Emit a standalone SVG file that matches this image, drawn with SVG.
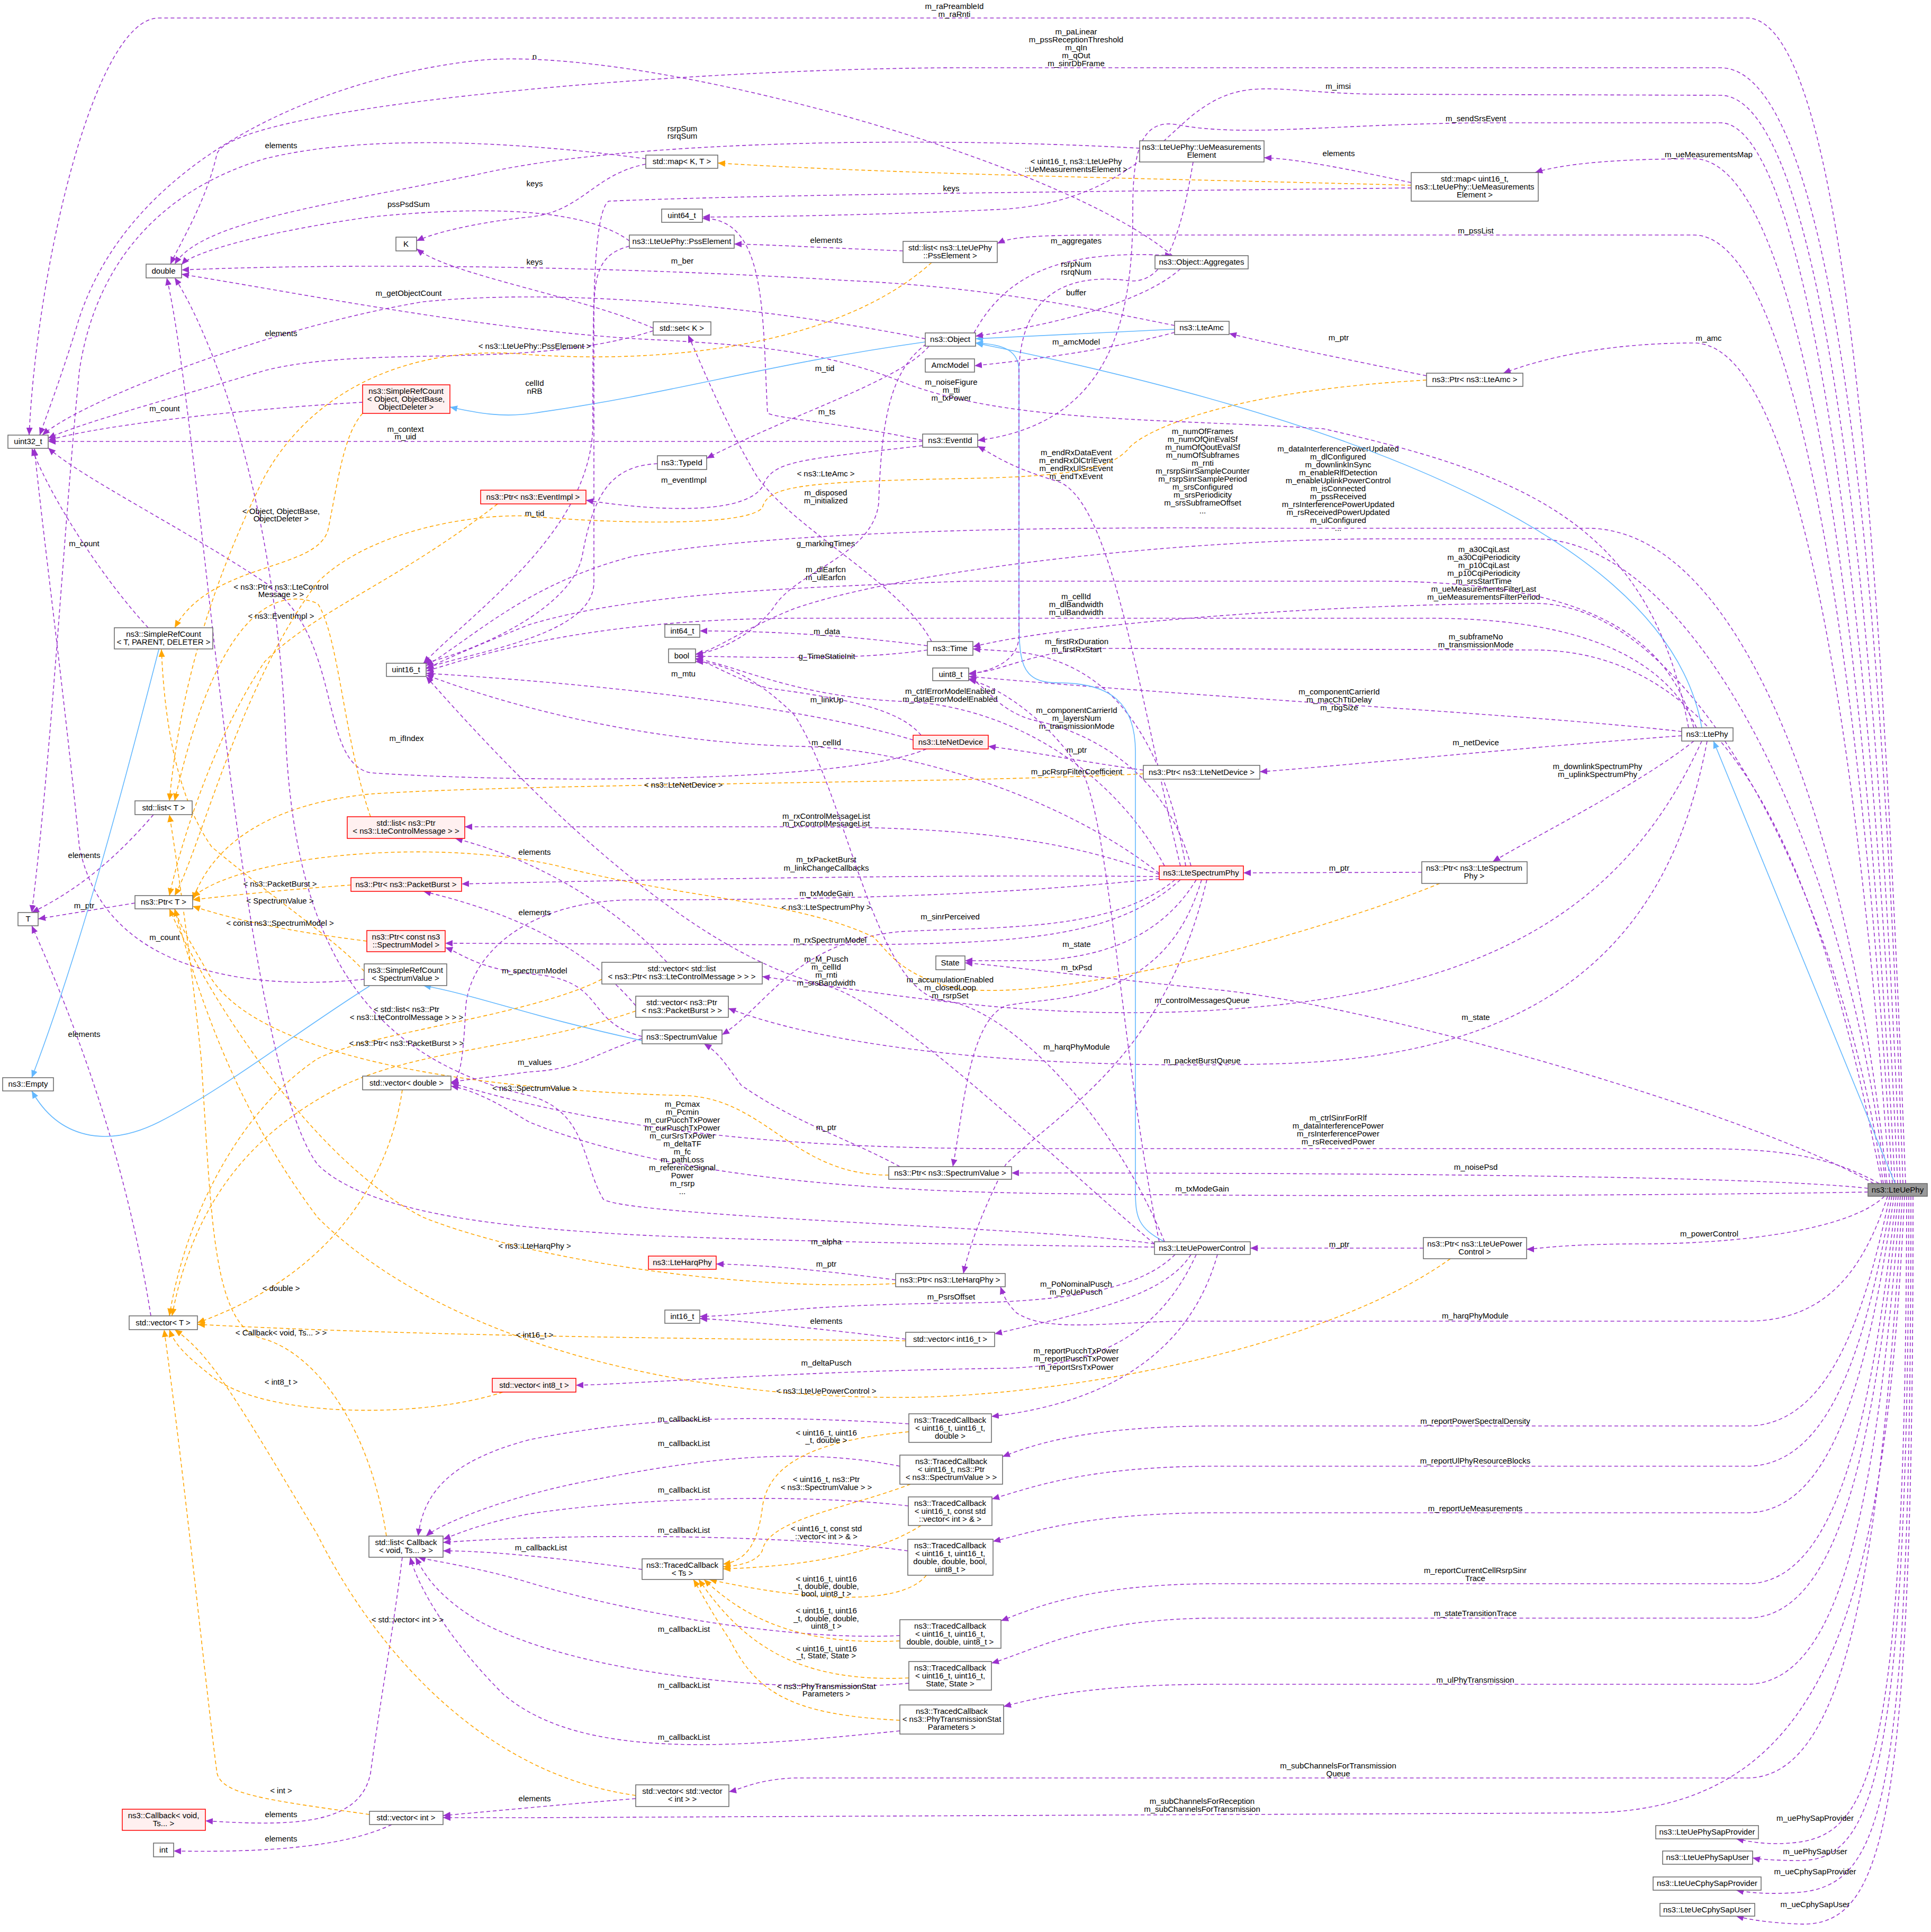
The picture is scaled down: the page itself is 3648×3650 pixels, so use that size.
<svg xmlns="http://www.w3.org/2000/svg" width="3648" height="3650" viewBox="0 0 3648 3650">
<style>
text{font-family:"Liberation Sans",Arial,sans-serif;font-size:15px;fill:#000;text-anchor:middle}
.n rect{fill:#fff;stroke:#666;stroke-width:1.5}
.r rect{fill:#fff0f0;stroke:#f00;stroke-width:1.5}
.m rect{fill:#999;stroke:#666;stroke-width:1.5}
.p{fill:none;stroke:#9a32cd;stroke-width:1.6;stroke-dasharray:7,5;marker-end:url(#ap)}
.o{fill:none;stroke:#ffa500;stroke-width:1.6;stroke-dasharray:7,5;marker-end:url(#ao)}
.b{fill:none;stroke:#63b8ff;stroke-width:1.6;marker-end:url(#ab)}
</style>
<defs>
<marker id="ap" markerUnits="userSpaceOnUse" markerWidth="14" markerHeight="12" refX="14" refY="6" orient="auto"><path d="M0,0L14,6L0,12z" fill="#9a32cd"/></marker>
<marker id="ao" markerUnits="userSpaceOnUse" markerWidth="14" markerHeight="12" refX="14" refY="6" orient="auto"><path d="M0,0L14,6L0,12z" fill="#ffa500"/></marker>
<marker id="ab" markerUnits="userSpaceOnUse" markerWidth="14" markerHeight="12" refX="14" refY="6" orient="auto"><path d="M0,0L14,6L0,12z" fill="#63b8ff"/></marker>
</defs>
<rect width="3648" height="3650" fill="#fff"/>
<g id="connectors">
<path class="p" d="M3600,2236 C3560,1200 3500,34 3300,34 L300,34 C180,34 70,500 55,822"/>
<text x="1803" y="17">m_raPreambleId</text><text x="1803" y="32">m_raRnti</text>
<path class="p" d="M3595,2236 C3560,1200 3480,128 3250,128 L1824,128 C1300,128 450,200 410,290 C390,380 340,460 322,499"/>
<text x="2033" y="65">m_paLinear</text><text x="2033" y="80">m_pssReceptionThreshold</text><text x="2033" y="95">m_qIn</text><text x="2033" y="110">m_qOut</text><text x="2033" y="125">m_sinrDbFrame</text>
<path class="p" d="M3590,2236 C3550,1200 3450,180 3250,180 L2600,178 C2400,175 2350,140 2250,220 C2180,280 2100,380 1900,395 C1700,405 1450,410 1327,410"/>
<text x="2528" y="168">m_imsi</text>
<path class="p" d="M3585,2236 C3540,1200 3420,232 3250,232 L2800,232 C2500,235 2350,260 2220,235 C2150,225 2140,300 2140,400 C2140,600 2100,800 1847,832"/>
<text x="2788" y="229">m_sendSrsEvent</text>
<path class="p" d="M3580,2236 C3530,1300 3420,300 3200,300 C3050,300 2950,310 2900,326"/>
<text x="3228" y="297">m_ueMeasurementsMap</text>
<path class="p" d="M3575,2236 C3520,1300 3400,444 3200,444 L2100,444 C1950,444 1910,448 1884,460"/>
<text x="2788" y="441">m_pssList</text>
<path class="p" d="M3570,2236 C3510,1400 3400,648 3200,648 C3000,648 2880,690 2840,705"/>
<text x="3228" y="644">m_amc</text>
<path class="p" d="M3565,2236 C3500,1600 3300,1000 3000,998 L2400,998 C2000,995 1500,1000 1200,1050 C1000,1100 900,1200 805,1258"/>
<text x="2272" y="820">m_numOfFrames</text><text x="2272" y="835">m_numOfQinEvalSf</text><text x="2272" y="850">m_numOfQoutEvalSf</text><text x="2272" y="865">m_numOfSubframes</text><text x="2272" y="880">m_rnti</text><text x="2272" y="895">m_rsrpSinrSampleCounter</text><text x="2272" y="910">m_rsrpSinrSamplePeriod</text><text x="2272" y="925">m_srsConfigured</text><text x="2272" y="940">m_srsPeriodicity</text><text x="2272" y="955">m_srsSubframeOffset</text><text x="2272" y="970">...</text>
<path class="p" d="M3562,2236 C3490,1600 3200,1018 2900,1018 L2600,1018 C2200,1020 1700,1080 1500,1150 C1400,1190 1350,1230 1314,1236"/>
<text x="2528" y="853">m_dataInterferencePowerUpdated</text><text x="2528" y="868">m_dlConfigured</text><text x="2528" y="883">m_downlinkInSync</text><text x="2528" y="898">m_enableRlfDetection</text><text x="2528" y="913">m_enableUplinkPowerControl</text><text x="2528" y="928">m_isConnected</text><text x="2528" y="943">m_pssReceived</text><text x="2528" y="958">m_rsInterferencePowerUpdated</text><text x="2528" y="973">m_rsReceivedPowerUpdated</text><text x="2528" y="988">m_ulConfigured</text><text x="2528" y="1003">...</text>
<path class="p" d="M3558,2236 C3480,1700 3200,1140 2900,1140 C2500,1140 2000,1180 1838,1222"/>
<text x="2803" y="1043">m_a30CqiLast</text><text x="2803" y="1058">m_a30CqiPeriodicity</text><text x="2803" y="1073">m_p10CqiLast</text><text x="2803" y="1088">m_p10CqiPeriodicity</text><text x="2803" y="1103">m_srsStartTime</text><text x="2803" y="1118">m_ueMeasurementsFilterLast</text><text x="2803" y="1133">m_ueMeasurementsFilterPeriod</text>
<path class="p" d="M3555,2236 C3450,1700 3300,1230 2900,1228 L2100,1225 C1950,1225 1900,1270 1830,1272"/>
<text x="2788" y="1208">m_subframeNo</text><text x="2788" y="1223">m_transmissionMode</text>
<path class="p" d="M3550,2236 C3450,2180 3350,2170 3200,2170 L1900,2170 C1400,2170 1100,2120 852,2046"/>
<text x="2528" y="2117">m_ctrlSinrForRlf</text><text x="2528" y="2132">m_dataInterferencePower</text><text x="2528" y="2147">m_rsInterferencePower</text><text x="2528" y="2162">m_rsReceivedPower</text>
<path class="p" d="M3529,2245 C3300,2220 2500,2216 1911,2216"/>
<text x="2788" y="2210">m_noisePsd</text>
<path class="p" d="M3529,2252 C3200,2258 2500,2262 2000,2255 C1500,2250 1200,2200 1000,2120 C950,2090 900,2060 852,2052"/>
<text x="2271" y="2251">m_txModeGain</text>
<path class="p" d="M3540,2236 C3300,2100 2600,1900 2300,1870 C2100,1850 1900,1825 1823,1819"/>
<text x="2788" y="1927">m_state</text>
<path class="p" d="M3560,2260 C3500,2320 3300,2350 3100,2350 C2950,2350 2900,2360 2884,2360"/>
<text x="3229" y="2336">m_powerControl</text>
<path class="p" d="M3566,2260 C3520,2400 3450,2496 3300,2496 L2250,2496 C2100,2496 1980,2520 1920,2480 C1900,2460 1895,2445 1890,2431"/>
<text x="2787" y="2491">m_harqPhyModule</text>
<path class="p" d="M3570,2260 C3520,2500 3450,2694 3300,2694 L2300,2694 C2050,2694 1950,2730 1894,2752"/>
<text x="2787" y="2690">m_reportPowerSpectralDensity</text>
<path class="p" d="M3574,2260 C3525,2550 3455,2770 3300,2770 L2300,2770 C2050,2770 1950,2810 1874,2832"/>
<text x="2787" y="2765">m_reportUlPhyResourceBlocks</text>
<path class="p" d="M3578,2260 C3530,2600 3460,2858 3300,2858 L2300,2858 C2050,2858 1950,2895 1876,2912"/>
<text x="2787" y="2855">m_reportUeMeasurements</text>
<path class="p" d="M3582,2260 C3535,2700 3465,2992 3300,2992 L2300,2992 C2050,2992 1950,3040 1891,3062"/>
<text x="2787" y="2972">m_reportCurrentCellRsrpSinr</text><text x="2787" y="2987">Trace</text>
<path class="p" d="M3586,2260 C3540,2750 3470,3057 3300,3057 L2300,3057 C2050,3057 1950,3120 1873,3142"/>
<text x="2787" y="3053">m_stateTransitionTrace</text>
<path class="p" d="M3590,2260 C3545,2850 3475,3182 3300,3182 L2300,3182 C2050,3182 1950,3210 1896,3224"/>
<text x="2787" y="3179">m_ulPhyTransmission</text>
<path class="p" d="M3594,2260 C3550,3000 3480,3359 3300,3359 L1500,3359 C1430,3362 1400,3380 1377,3385"/>
<text x="2528" y="3341">m_subChannelsForTransmission</text><text x="2528" y="3356">Queue</text>
<path class="p" d="M3598,2260 C3560,3050 3450,3420 3000,3425 L1000,3434 L837,3434"/>
<text x="2271" y="3408">m_subChannelsForReception</text><text x="2271" y="3423">m_subChannelsForTransmission</text>
<path class="p" d="M3602,2260 C3600,3300 3540,3460 3400,3480 C3340,3488 3300,3478 3280,3474"/>
<text x="3429" y="3440">m_uePhySapProvider</text>
<path class="p" d="M3606,2260 C3605,3350 3540,3515 3400,3515 C3350,3515 3320,3512 3311,3510"/>
<text x="3429" y="3503">m_uePhySapUser</text>
<path class="p" d="M3610,2260 C3610,3400 3560,3560 3400,3575 C3340,3580 3300,3575 3280,3571"/>
<text x="3429" y="3541">m_ueCphySapProvider</text>
<path class="p" d="M3614,2260 C3615,3450 3560,3640 3400,3635 C3330,3632 3300,3625 3280,3620"/>
<text x="3429" y="3603">m_ueCphySapUser</text>
<path class="b" d="M3580,2236 L3237,1400"/>
<path class="b" d="M3215,1375 C3150,1000 2500,780 1843,648"/>
<path class="p" d="M3190,1375 C3120,1000 2900,900 2500,810 C2200,790 1900,800 1700,720 C1550,660 1400,650 1200,640 C900,620 600,560 343,518"/>
<text x="1797" y="727">m_noiseFigure</text><text x="1797" y="742">m_tti</text><text x="1797" y="757">m_txPower</text>
<path class="p" d="M3200,1375 C3150,1200 3000,1098 2600,1098 L1824,1098 C1500,1110 1200,1120 1000,1180 C900,1220 830,1250 805,1264"/>
<text x="1560" y="1081">m_dlEarfcn</text><text x="1560" y="1096">m_ulEarfcn</text>
<path class="p" d="M3205,1375 C3150,1250 3000,1168 2700,1168 L1500,1168 C1100,1170 900,1240 805,1268"/>
<text x="2033" y="1132">m_cellId</text><text x="2033" y="1147">m_dlBandwidth</text><text x="2033" y="1162">m_ulBandwidth</text>
<path class="p" d="M3177,1382 C2900,1350 2300,1320 1830,1278"/>
<text x="2530" y="1312">m_componentCarrierId</text><text x="2530" y="1327">m_macChTtiDelay</text><text x="2530" y="1342">m_rbgSize</text>
<path class="p" d="M3177,1390 C2900,1410 2500,1450 2380,1458"/>
<text x="2788" y="1408">m_netDevice</text>
<path class="p" d="M3200,1400 C3100,1480 2900,1580 2820,1628"/>
<text x="3018" y="1453">m_downlinkSpectrumPhy</text><text x="3018" y="1468">m_uplinkSpectrumPhy</text>
<path class="p" d="M3215,1400 C3100,1650 2900,1850 2400,1900 C2000,1940 1700,1880 1440,1845"/>
<text x="2271" y="1895">m_controlMessagesQueue</text>
<path class="p" d="M3225,1400 C3150,1800 2900,2000 2400,2010 C2000,2020 1600,1990 1376,1905"/>
<text x="2271" y="2009">m_packetBurstQueue</text>
<path class="p" d="M2230,1636 C2150,1300 2100,950 2000,910 C1900,880 1880,860 1847,843"/>
<text x="2033" y="860">m_endRxDataEvent</text><text x="2033" y="875">m_endRxDlCtrlEvent</text><text x="2033" y="890">m_endRxUlSrsEvent</text><text x="2033" y="905">m_endTxEvent</text>
<path class="p" d="M2240,1636 C2200,1400 2100,1240 1900,1230 L1838,1226"/>
<text x="2034" y="1217">m_firstRxDuration</text><text x="2034" y="1232">m_firstRxStart</text>
<path class="p" d="M2200,1636 C2100,1450 1900,1330 1700,1325 C1500,1315 1400,1260 1314,1244"/>
<text x="1795" y="1311">m_ctrlErrorModelEnabled</text><text x="1795" y="1326">m_dataErrorModelEnabled</text>
<path class="p" d="M2250,1636 C2200,1450 2050,1380 1950,1360 C1880,1340 1860,1290 1830,1282"/>
<text x="2034" y="1347">m_componentCarrierId</text><text x="2034" y="1362">m_layersNum</text><text x="2034" y="1377">m_transmissionMode</text>
<path class="p" d="M2190,1650 C2000,1500 1700,1410 1500,1410 C1200,1400 950,1330 805,1275"/>
<text x="1561" y="1408">m_cellId</text>
<path class="p" d="M2190,1652 C2000,1580 1800,1562 1500,1562 L878,1562"/>
<text x="1561" y="1547">m_rxControlMessageList</text><text x="1561" y="1561">m_txControlMessageList</text>
<path class="p" d="M2190,1656 C1800,1652 1300,1660 872,1670"/>
<text x="1561" y="1629">m_txPacketBurst</text><text x="1561" y="1645">m_linkChangeCallbacks</text>
<path class="p" d="M2190,1660 C1900,1690 1600,1700 1200,1700 C1000,1700 890,1800 880,1900 C875,2000 870,2040 852,2046"/>
<text x="1561" y="1693">m_txModeGain</text>
<path class="p" d="M2220,1662 C2100,1760 1900,1750 1700,1760 C1500,1780 1450,1900 1364,1955"/>
<text x="1795" y="1737">m_sinrPerceived</text>
<path class="p" d="M2230,1662 C2100,1780 1900,1785 1500,1785 L841,1782"/>
<text x="1568" y="1781">m_rxSpectrumModel</text>
<path class="p" d="M2260,1662 C2200,1760 2100,1810 1950,1815 L1823,1815"/>
<text x="2034" y="1789">m_state</text>
<path class="p" d="M2270,1662 C2200,1900 2000,1880 1900,1900 C1830,1930 1820,2100 1800,2204"/>
<text x="2034" y="1833">m_txPsd</text>
<path class="p" d="M2280,1662 C2200,2000 2000,2100 1900,2200 C1850,2300 1830,2360 1820,2406"/>
<text x="2034" y="1983">m_harqPhyModule</text>
<path class="p" d="M2686,1648 L2349,1649"/>
<text x="2530" y="1645">m_ptr</text>
<path class="o" d="M2720,1669 C2500,1760 2000,1900 1800,1866 C1700,1840 1680,1800 1650,1770 C1500,1700 1300,1700 1050,1635 C800,1580 450,1620 364,1695"/>
<text x="1561" y="1719">&lt; ns3::LteSpectrumPhy &gt;</text>
<path class="p" d="M1740,1389 C1700,1340 1600,1320 1450,1300 C1380,1280 1340,1250 1314,1246"/>
<text x="1562" y="1327">m_linkUp</text>
<path class="p" d="M1725,1398 C1500,1330 1100,1290 805,1272"/>
<text x="1291" y="1278">m_mtu</text>
<path class="p" d="M1750,1415 C1600,1480 1000,1480 700,1460 C600,1440 650,1200 500,1100 C350,1000 150,900 91,846"/>
<text x="768" y="1400">m_ifIndex</text>
<path class="p" d="M2160,1455 C2050,1440 1950,1420 1867,1410"/>
<text x="2034" y="1422">m_ptr</text>
<path class="o" d="M2160,1462 C1800,1480 1000,1480 700,1500 C500,1520 400,1600 364,1700"/>
<text x="1291" y="1488">&lt; ns3::LteNetDevice &gt;</text>
<path class="b" d="M2200,2346 C2150,2320 2145,2300 2145,2250 L2145,1420 C2145,1330 2100,1290 2000,1290 C1925,1290 1925,1250 1925,1150 L1925,700 C1925,665 1900,650 1843,648"/>
<path class="p" d="M2181,2356 C1700,2350 1300,2340 1150,2330 C1000,2320 700,2300 600,2200 C450,2000 380,800 315,525"/>
<text x="1561" y="2351">m_alpha</text>
<path class="p" d="M2181,2350 C2000,2320 1200,2300 1140,2266 C1100,2200 1110,2100 1000,2070 C700,2000 560,1800 540,1400 C520,900 380,600 330,525"/>
<text x="1289" y="2091">m_Pcmax</text><text x="1289" y="2106">m_Pcmin</text><text x="1289" y="2121">m_curPucchTxPower</text><text x="1289" y="2136">m_curPuschTxPower</text><text x="1289" y="2151">m_curSrsTxPower</text><text x="1289" y="2166">m_deltaTF</text><text x="1289" y="2181">m_fc</text><text x="1289" y="2196">m_pathLoss</text><text x="1289" y="2211">m_referenceSignal</text><text x="1289" y="2226">Power</text><text x="1289" y="2241">m_rsrp</text><text x="1289" y="2256">...</text>
<path class="p" d="M2190,2346 C2120,2000 2100,1600 2050,1470 C2000,1380 1900,1300 1830,1284"/>
<text x="2034" y="1463">m_pcRsrpFilterCoefficient</text>
<path class="p" d="M2181,2350 C2000,2200 1700,1900 1560,1862 C1300,1800 1000,1500 805,1278"/>
<text x="1561" y="1817">m_M_Pusch</text><text x="1561" y="1832">m_cellId</text><text x="1561" y="1847">m_rnti</text><text x="1561" y="1862">m_srsBandwidth</text>
<path class="p" d="M2200,2346 C2100,2100 1900,1900 1780,1890 C1650,1870 1600,1500 1500,1350 C1420,1270 1350,1250 1314,1250"/>
<text x="1795" y="1856">m_accumulationEnabled</text><text x="1795" y="1871">m_closedLoop</text><text x="1795" y="1886">m_rsrpSet</text>
<path class="p" d="M2250,2370 C2200,2450 2050,2480 1879,2520"/>
<text x="2033" y="2431">m_PoNominalPusch</text><text x="2033" y="2446">m_PoUePusch</text>
<path class="p" d="M2220,2370 C2150,2440 2000,2460 1800,2462 C1500,2465 1400,2487 1322,2487"/>
<text x="1797" y="2455">m_PsrsOffset</text>
<path class="p" d="M2260,2370 C2200,2500 2100,2580 1900,2585 C1500,2590 1200,2615 1088,2617"/>
<text x="1561" y="2580">m_deltaPusch</text>
<path class="p" d="M2300,2370 C2250,2550 2100,2650 1873,2676"/>
<text x="2033" y="2557">m_reportPucchTxPower</text><text x="2033" y="2572">m_reportPuschTxPower</text><text x="2033" y="2588">m_reportSrsTxPower</text>
<path class="p" d="M2689,2358 L2362,2358"/>
<text x="2530" y="2356">m_ptr</text>
<path class="o" d="M2740,2378 C2500,2550 2000,2640 1700,2640 C1200,2640 800,2500 600,2300 C450,2100 380,1900 330,1717"/>
<text x="1561" y="2633">&lt; ns3::LteUePowerControl &gt;</text>
<path class="p" d="M1692,2418 C1550,2400 1450,2390 1353,2388"/>
<text x="1561" y="2393">m_ptr</text>
<path class="o" d="M1692,2425 C1400,2440 1000,2380 800,2300 C600,2200 400,1900 320,1717"/>
<text x="1010" y="2359">&lt; ns3::LteHarqPhy &gt;</text>
<path class="p" d="M1700,2204 C1600,2150 1500,2120 1400,2050 C1370,2010 1360,1990 1330,1972"/>
<text x="1561" y="2135">m_ptr</text>
<path class="o" d="M1679,2220 C1500,2220 1450,2080 1300,2070 C900,2060 500,2000 400,1850 C360,1780 340,1750 330,1717"/>
<text x="1010" y="2061">&lt; ns3::SpectrumValue &gt;</text>
<path class="p" d="M1213,1958 C1100,1930 1150,1850 1000,1840 C900,1830 870,1800 841,1790"/>
<text x="1010" y="1839">m_spectrumModel</text>
<path class="p" d="M1213,1962 C1120,1990 1100,2020 1000,2025 L852,2044"/>
<text x="1010" y="2012">m_values</text>
<path class="b" d="M1213,1966 C1000,1920 900,1880 800,1862"/>
<path class="p" d="M1260,1818 C1150,1700 1000,1620 860,1584"/>
<text x="1010" y="1615">elements</text>
<path class="p" d="M1201,1900 C1100,1780 950,1720 800,1684"/>
<text x="1010" y="1729">elements</text>
<path class="o" d="M1137,1850 C1000,1920 700,1950 600,2000 C450,2100 350,2300 320,2486"/>
<text x="768" y="1912">&lt; std::list&lt; ns3::Ptr</text><text x="768" y="1927">&lt; ns3::LteControlMessage &gt; &gt; &gt;</text>
<path class="o" d="M1201,1910 C1000,1980 800,1980 650,2050 C450,2150 360,2300 325,2486"/>
<text x="768" y="1976">&lt; ns3::Ptr&lt; ns3::PacketBurst &gt; &gt;</text>
<path class="o" d="M760,2059 C740,2200 650,2400 373,2499"/>
<text x="531" y="2439">&lt; double &gt;</text>
<path class="o" d="M663,1672 C550,1680 450,1690 364,1700"/>
<text x="529" y="1675">&lt; ns3::PacketBurst &gt;</text>
<path class="o" d="M693,1778 C550,1760 450,1740 364,1712"/>
<text x="529" y="1749">&lt; const ns3::SpectrumModel &gt;</text>
<path class="o" d="M688,1835 C640,1780 520,1700 400,1600 C330,1500 310,1350 305,1227"/>
<text x="529" y="1707">&lt; SpectrumValue &gt;</text>
<path class="p" d="M688,1850 C500,1870 200,1850 150,1600 C120,1300 80,1000 65,847"/>
<text x="311" y="1776">m_count</text>
<path class="o" d="M700,1543 C650,1400 640,1200 600,1140 C500,1100 400,1200 330,1513"/>
<text x="531" y="1114">&lt; ns3::Ptr&lt; ns3::LteControl</text><text x="531" y="1128">Message &gt; &gt;</text>
<path class="o" d="M940,952 C750,1100 600,1150 500,1250 C400,1400 340,1600 320,1692"/>
<text x="531" y="1169">&lt; ns3::EventImpl &gt;</text>
<path class="o" d="M730,2902 C700,2700 600,2560 500,2530 C400,2510 400,2300 380,2000 C360,1800 330,1600 320,1539"/>
<text x="531" y="2523">&lt; Callback&lt; void, Ts... &gt; &gt;</text>
<path class="p" d="M290,1539 C220,1620 150,1680 60,1724"/>
<text x="159" y="1621">elements</text>
<path class="p" d="M255,1706 L72,1736"/>
<text x="159" y="1716">m_ptr</text>
<path class="p" d="M285,2486 C240,2200 150,1950 60,1749"/>
<text x="159" y="1959">elements</text>
<path class="p" d="M280,1186 C200,1100 100,950 60,847"/>
<text x="159" y="1032">m_count</text>
<path class="b" d="M300,1227 C230,1500 150,1800 60,2036"/>
<path class="b" d="M698,1863 C560,1950 420,2060 300,2120 C200,2170 110,2150 60,2061"/>
<path class="p" d="M1711,2530 C1550,2510 1400,2495 1322,2491"/>
<text x="1561" y="2501">elements</text>
<path class="o" d="M1711,2533 C1400,2530 800,2525 373,2502"/>
<text x="1010" y="2527">&lt; int16_t &gt;</text>
<path class="o" d="M950,2630 C800,2680 500,2680 400,2600 C350,2560 330,2540 320,2512"/>
<text x="531" y="2616">&lt; int8_t &gt;</text>
<path class="p" d="M1717,2690 C1400,2670 1200,2680 1000,2720 C850,2760 800,2820 790,2902"/>
<text x="1292" y="2686">m_callbackList</text>
<path class="p" d="M1700,2770 C1500,2730 1300,2760 1100,2800 C950,2830 830,2880 805,2902"/>
<text x="1292" y="2732">m_callbackList</text>
<path class="p" d="M1716,2845 C1500,2820 1200,2830 1000,2860 C900,2880 860,2900 837,2908"/>
<text x="1292" y="2820">m_callbackList</text>
<path class="p" d="M1715,2930 C1500,2900 1100,2895 837,2914"/>
<text x="1292" y="2896">m_callbackList</text>
<path class="p" d="M1213,2965 C1100,2950 950,2930 837,2930"/>
<text x="1022" y="2929">m_callbackList</text>
<path class="p" d="M1700,3090 C1500,3100 1200,3050 1000,2990 C900,2960 820,2950 790,2942"/>
<text x="1292" y="3083">m_callbackList</text>
<path class="p" d="M1717,3180 C1500,3200 1100,3170 900,3060 C820,3010 800,2970 785,2942"/>
<text x="1292" y="3189">m_callbackList</text>
<path class="p" d="M1700,3270 C1400,3300 1100,3330 950,3200 C850,3100 790,3000 775,2942"/>
<text x="1292" y="3287">m_callbackList</text>
<path class="o" d="M1717,2705 C1550,2720 1450,2760 1440,2850 C1430,2930 1400,2950 1366,2955"/>
<text x="1561" y="2712">&lt; uint16_t, uint16</text><text x="1561" y="2726">_t, double &gt;</text>
<path class="o" d="M1720,2804 C1600,2850 1450,2870 1440,2930 C1430,2950 1400,2958 1366,2960"/>
<text x="1561" y="2800">&lt; uint16_t, ns3::Ptr</text><text x="1561" y="2815">&lt; ns3::SpectrumValue &gt; &gt;</text>
<path class="o" d="M1740,2882 C1650,2940 1500,2960 1366,2964"/>
<text x="1561" y="2893">&lt; uint16_t, const std</text><text x="1561" y="2908">::vector&lt; int &gt; &amp; &gt;</text>
<path class="o" d="M1750,2976 C1700,3040 1500,3020 1340,2984"/>
<text x="1561" y="2988">&lt; uint16_t, uint16</text><text x="1561" y="3002">_t, double, double,</text><text x="1561" y="3016">bool, uint8_t &gt;</text>
<path class="o" d="M1700,3100 C1500,3110 1400,3050 1330,2984"/>
<text x="1561" y="3048">&lt; uint16_t, uint16</text><text x="1561" y="3063">_t, double, double,</text><text x="1561" y="3077">uint8_t &gt;</text>
<path class="o" d="M1717,3170 C1500,3180 1400,3100 1320,2984"/>
<text x="1561" y="3120">&lt; uint16_t, uint16</text><text x="1561" y="3133">_t, State, State &gt;</text>
<path class="o" d="M1700,3250 C1500,3240 1430,3200 1380,3100 C1340,3040 1320,3000 1310,2984"/>
<text x="1561" y="3191">&lt; ns3::PhyTransmissionStat</text><text x="1561" y="3205">Parameters &gt;</text>
<path class="p" d="M760,2942 C740,3100 720,3200 700,3350 C680,3450 550,3450 388,3440"/>
<text x="531" y="3433">elements</text>
<path class="p" d="M1201,3398 C1050,3410 950,3420 837,3430"/>
<text x="1010" y="3403">elements</text>
<path class="o" d="M1201,3392 C900,3350 700,3100 600,2900 C450,2650 400,2560 330,2512"/>
<text x="770" y="3065">&lt; std::vector&lt; int &gt; &gt;</text>
<path class="o" d="M698,3428 C500,3400 420,3390 410,3350 C390,3200 350,2800 310,2512"/>
<text x="531" y="3388">&lt; int &gt;</text>
<path class="p" d="M740,3447 C650,3490 500,3500 328,3497"/>
<text x="531" y="3479">elements</text>
<path class="p" d="M1242,876 C1150,880 1120,940 1100,1050 C1080,1150 900,1230 800,1253"/>
<text x="1010" y="975">m_tid</text>
<path class="p" d="M1755,654 C1700,720 1500,780 1335,866"/>
<text x="1558" y="701">m_tid</text>
<path class="p" d="M1752,1220 C1600,1200 1450,1192 1322,1192"/>
<text x="1562" y="1198">m_data</text>
<path class="p" d="M1752,1228 C1600,1250 1400,1240 1314,1240"/>
<text x="1562" y="1245">g_TimeStaticInit</text>
<path class="p" d="M1760,1212 C1700,1100 1500,1000 1430,900 C1370,800 1330,700 1300,633"/>
<text x="1560" y="1032">g_markingTimes</text>
<path class="p" d="M1750,650 C1680,700 1665,800 1660,950 C1650,1050 1500,1080 1460,1150 C1420,1200 1360,1230 1314,1236"/>
<text x="1560" y="936">m_disposed</text><text x="1560" y="951">m_initialized</text>
<path class="p" d="M1743,832 C1600,800 1460,790 1450,780 C1440,600 1450,410 1327,413"/>
<text x="1562" y="783">m_ts</text>
<path class="p" d="M1743,834 L91,834"/>
<text x="766" y="816">m_context</text><text x="766" y="830">m_uid</text>
<path class="p" d="M1743,842 C1500,870 1460,870 1440,920 C1400,980 1200,960 1107,945"/>
<text x="1292" y="912">m_eventImpl</text>
<path class="p" d="M685,760 C500,770 200,800 91,832"/>
<text x="311" y="777">m_count</text>
<path class="o" d="M685,781 C650,820 640,900 620,1000 C600,1080 400,1060 330,1186"/>
<text x="531" y="971">&lt; Object, ObjectBase,</text><text x="531" y="985">ObjectDeleter &gt;</text>
<path class="b" d="M1748,646 C1442,689 1279,742 1012,780 C950,790 900,780 850,769"/>
<path class="b" d="M2219,622 L1843,640"/>
<path class="p" d="M2219,628 C2100,660 1950,680 1841,691"/>
<text x="2033" y="651">m_amcModel</text>
<path class="p" d="M2695,710 C2550,680 2400,650 2322,630"/>
<text x="2529" y="643">m_ptr</text>
<path class="o" d="M2695,718 C2300,740 2150,820 2130,850 C2100,880 2050,900 1824,904 C1500,910 1450,920 1440,960 C1400,1000 1100,985 1000,975 C900,970 700,1000 600,1100 C450,1300 380,1600 330,1692"/>
<text x="1560" y="900">&lt; ns3::LteAmc &gt;</text>
<path class="p" d="M2219,615 C2000,570 1824,540 1600,530 C1200,505 700,495 343,510"/>
<text x="1289" y="498">m_ber</text>
<path class="p" d="M1748,640 C1500,590 1100,540 800,570 C500,620 150,760 80,822"/>
<text x="772" y="559">m_getObjectCount</text>
<path class="p" d="M1234,625 C1000,700 700,650 500,700 C300,760 150,800 91,828"/>
<text x="531" y="635">elements</text>
<path class="p" d="M2215,483 C2000,300 1200,80 895,115 C600,150 250,300 150,600 C120,700 90,780 75,822"/>
<text x="1010" y="112">n</text>
<path class="p" d="M1840,629 C1900,520 2000,470 2215,483"/>
<text x="2033" y="460">m_aggregates</text>
<path class="p" d="M2230,508 C2150,580 1950,620 1843,635"/>
<text x="2033" y="558">buffer</text>
<path class="p" d="M2254,306 C2230,450 2200,540 2130,530 C2050,520 1930,530 1925,700 L1925,1200 C1925,1260 1850,1270 1830,1274"/>
<text x="2033" y="504">rsrpNum</text><text x="2033" y="519">rsrqNum</text>
<path class="p" d="M2153,280 C1800,260 1200,260 900,330 C600,390 380,420 330,499"/>
<text x="1289" y="248">rsrpSum</text><text x="1289" y="262">rsrqSum</text>
<path class="p" d="M2666,345 C2550,320 2450,300 2388,298"/>
<text x="2529" y="295">elements</text>
<path class="o" d="M2666,350 C2300,340 1700,330 1356,308"/>
<text x="2033" y="310">&lt; uint16_t, ns3::LteUePhy</text><text x="2033" y="325">::UeMeasurementsElement &gt;</text>
<path class="p" d="M2666,355 C2300,360 1500,365 1150,380 C1120,400 1120,600 1120,800 C1120,1000 900,1150 800,1253"/>
<text x="1797" y="361">keys</text>
<path class="p" d="M1220,310 C1120,330 1100,400 1000,410 C900,420 820,440 787,455"/>
<text x="1010" y="352">keys</text>
<path class="p" d="M1234,620 C1100,560 850,520 787,470"/>
<text x="1010" y="500">keys</text>
<path class="p" d="M1220,300 C1000,270 700,250 500,300 C300,360 180,500 150,700 C120,1000 100,1400 60,1724"/>
<text x="531" y="280">elements</text>
<path class="p" d="M1706,474 C1600,470 1450,462 1387,461"/>
<text x="1561" y="459">elements</text>
<path class="p" d="M1189,455 C1100,390 900,390 700,410 C550,430 370,470 343,500"/>
<text x="772" y="391">pssPsdSum</text>
<path class="p" d="M1189,465 C1130,480 1122,520 1122,600 L1122,1100 C1122,1200 900,1230 805,1262"/>
<text x="1010" y="729">cellId</text><text x="1010" y="744">nRB</text>
<path class="o" d="M1760,496 C1600,640 1300,690 1000,670 C800,650 600,720 500,900 C400,1100 340,1300 320,1513"/>
<text x="1010" y="659">&lt; ns3::LteUePhy::PssElement &gt;</text>
</g>
<g id="n_U32" class="n"><rect x="15" y="822" width="76" height="25"/><text x="53" y="839">uint32_t</text></g>
<g id="n_DBL" class="n"><rect x="276" y="499" width="67" height="26"/><text x="309" y="517">double</text></g>
<g id="n_K" class="n"><rect x="748" y="448" width="39" height="26"/><text x="767" y="466">K</text></g>
<g id="n_MAPKT" class="n"><rect x="1220" y="293" width="136" height="25"/><text x="1288" y="310">std::map&lt; K, T &gt;</text></g>
<g id="n_U64" class="n"><rect x="1250" y="395" width="77" height="25"/><text x="1288" y="412">uint64_t</text></g>
<g id="n_PSSEL" class="n"><rect x="1189" y="444" width="198" height="25"/><text x="1288" y="461">ns3::LteUePhy::PssElement</text></g>
<g id="n_LPSS" class="n"><rect x="1706" y="456" width="178" height="40"/><text x="1795" y="473">std::list&lt; ns3::LteUePhy</text><text x="1795" y="488">::PssElement &gt;</text></g>
<g id="n_UEME" class="n"><rect x="2153" y="266" width="235" height="40"/><text x="2270" y="283">ns3::LteUePhy::UeMeasurements</text><text x="2270" y="298">Element</text></g>
<g id="n_MAPUE" class="n"><rect x="2666" y="326" width="240" height="54"/><text x="2786" y="343">std::map&lt; uint16_t,</text><text x="2786" y="358">ns3::LteUePhy::UeMeasurements</text><text x="2786" y="373">Element &gt;</text></g>
<g id="n_AGG" class="n"><rect x="2182" y="483" width="176" height="25"/><text x="2270" y="500">ns3::Object::Aggregates</text></g>
<g id="n_SETK" class="n"><rect x="1234" y="608" width="109" height="25"/><text x="1288" y="625">std::set&lt; K &gt;</text></g>
<g id="n_OBJ" class="n"><rect x="1748" y="629" width="95" height="25"/><text x="1795" y="646">ns3::Object</text></g>
<g id="n_AMCM" class="n"><rect x="1748" y="678" width="93" height="25"/><text x="1795" y="695">AmcModel</text></g>
<g id="n_AMC" class="n"><rect x="2219" y="607" width="103" height="25"/><text x="2270" y="624">ns3::LteAmc</text></g>
<g id="n_PAMC" class="n"><rect x="2695" y="705" width="182" height="25"/><text x="2786" y="722">ns3::Ptr&lt; ns3::LteAmc &gt;</text></g>
<g id="n_SRCO" class="r"><rect x="685" y="727" width="165" height="54"/><text x="767" y="744">ns3::SimpleRefCount</text><text x="767" y="759">&lt; Object, ObjectBase,</text><text x="767" y="774">ObjectDeleter &gt;</text></g>
<g id="n_EVID" class="n"><rect x="1743" y="820" width="104" height="25"/><text x="1795" y="837">ns3::EventId</text></g>
<g id="n_TYPEID" class="n"><rect x="1242" y="861" width="93" height="26"/><text x="1288" y="879">ns3::TypeId</text></g>
<g id="n_PEVI" class="r"><rect x="908" y="926" width="199" height="26"/><text x="1007" y="944">ns3::Ptr&lt; ns3::EventImpl &gt;</text></g>
<g id="n_SRCT" class="n"><rect x="216" y="1186" width="186" height="40"/><text x="309" y="1203">ns3::SimpleRefCount</text><text x="309" y="1218">&lt; T, PARENT, DELETER &gt;</text></g>
<g id="n_I64" class="n"><rect x="1256" y="1180" width="66" height="24"/><text x="1289" y="1197">int64_t</text></g>
<g id="n_BOOL" class="n"><rect x="1263" y="1226" width="51" height="26"/><text x="1288" y="1244">bool</text></g>
<g id="n_TIME" class="n"><rect x="1752" y="1212" width="86" height="26"/><text x="1795" y="1230">ns3::Time</text></g>
<g id="n_U8" class="n"><rect x="1762" y="1262" width="68" height="24"/><text x="1796" y="1279">uint8_t</text></g>
<g id="n_U16" class="n"><rect x="730" y="1253" width="75" height="25"/><text x="767" y="1270">uint16_t</text></g>
<g id="n_NETD" class="r"><rect x="1725" y="1389" width="142" height="26"/><text x="1796" y="1407">ns3::LteNetDevice</text></g>
<g id="n_PNETD" class="n"><rect x="2160" y="1446" width="220" height="26"/><text x="2270" y="1464">ns3::Ptr&lt; ns3::LteNetDevice &gt;</text></g>
<g id="n_LTEPHY" class="n"><rect x="3177" y="1375" width="97" height="25"/><text x="3225" y="1392">ns3::LtePhy</text></g>
<g id="n_LISTT" class="n"><rect x="255" y="1513" width="108" height="26"/><text x="309" y="1531">std::list&lt; T &gt;</text></g>
<g id="n_LCM" class="r"><rect x="656" y="1543" width="222" height="41"/><text x="767" y="1560">std::list&lt; ns3::Ptr</text><text x="767" y="1575">&lt; ns3::LteControlMessage &gt; &gt;</text></g>
<g id="n_SPHY" class="r"><rect x="2190" y="1636" width="159" height="26"/><text x="2269" y="1654">ns3::LteSpectrumPhy</text></g>
<g id="n_PSPHY" class="n"><rect x="2686" y="1628" width="199" height="41"/><text x="2785" y="1645">ns3::Ptr&lt; ns3::LteSpectrum</text><text x="2785" y="1660">Phy &gt;</text></g>
<g id="n_PPB" class="r"><rect x="663" y="1658" width="209" height="26"/><text x="767" y="1676">ns3::Ptr&lt; ns3::PacketBurst &gt;</text></g>
<g id="n_T" class="n"><rect x="34" y="1724" width="38" height="25"/><text x="53" y="1741">T</text></g>
<g id="n_PTRT" class="n"><rect x="255" y="1692" width="109" height="25"/><text x="309" y="1709">ns3::Ptr&lt; T &gt;</text></g>
<g id="n_PSM" class="r"><rect x="693" y="1758" width="148" height="40"/><text x="767" y="1775">ns3::Ptr&lt; const ns3</text><text x="767" y="1790">::SpectrumModel &gt;</text></g>
<g id="n_STATE" class="n"><rect x="1768" y="1806" width="55" height="26"/><text x="1795" y="1824">State</text></g>
<g id="n_SRCSV" class="n"><rect x="688" y="1821" width="156" height="41"/><text x="766" y="1838">ns3::SimpleRefCount</text><text x="766" y="1853">&lt; SpectrumValue &gt;</text></g>
<g id="n_VLCM" class="n"><rect x="1137" y="1818" width="303" height="41"/><text x="1288" y="1835">std::vector&lt; std::list</text><text x="1288" y="1850">&lt; ns3::Ptr&lt; ns3::LteControlMessage &gt; &gt; &gt;</text></g>
<g id="n_VPB" class="n"><rect x="1201" y="1882" width="175" height="40"/><text x="1288" y="1899">std::vector&lt; ns3::Ptr</text><text x="1288" y="1914">&lt; ns3::PacketBurst &gt; &gt;</text></g>
<g id="n_SV" class="n"><rect x="1213" y="1946" width="151" height="26"/><text x="1288" y="1964">ns3::SpectrumValue</text></g>
<g id="n_VD" class="n"><rect x="685" y="2033" width="167" height="26"/><text x="768" y="2051">std::vector&lt; double &gt;</text></g>
<g id="n_EMPTY" class="n"><rect x="5" y="2036" width="96" height="25"/><text x="53" y="2053">ns3::Empty</text></g>
<g id="n_PSV" class="n"><rect x="1679" y="2204" width="232" height="24"/><text x="1795" y="2221">ns3::Ptr&lt; ns3::SpectrumValue &gt;</text></g>
<g id="n_UEPHY" class="m"><rect x="3529" y="2236" width="112" height="24"/><text x="3585" y="2253">ns3::LteUePhy</text></g>
<g id="n_UEPC" class="n"><rect x="2181" y="2346" width="181" height="24"/><text x="2271" y="2363">ns3::LteUePowerControl</text></g>
<g id="n_PUEPC" class="n"><rect x="2689" y="2338" width="195" height="40"/><text x="2786" y="2355">ns3::Ptr&lt; ns3::LteUePower</text><text x="2786" y="2370">Control &gt;</text></g>
<g id="n_HARQ" class="r"><rect x="1225" y="2373" width="128" height="25"/><text x="1289" y="2390">ns3::LteHarqPhy</text></g>
<g id="n_PHARQ" class="n"><rect x="1692" y="2406" width="207" height="25"/><text x="1795" y="2423">ns3::Ptr&lt; ns3::LteHarqPhy &gt;</text></g>
<g id="n_I16" class="n"><rect x="1256" y="2475" width="66" height="25"/><text x="1289" y="2492">int16_t</text></g>
<g id="n_VI16" class="n"><rect x="1711" y="2517" width="168" height="27"/><text x="1795" y="2535">std::vector&lt; int16_t &gt;</text></g>
<g id="n_VT" class="n"><rect x="244" y="2486" width="129" height="26"/><text x="308" y="2504">std::vector&lt; T &gt;</text></g>
<g id="n_VI8" class="r"><rect x="930" y="2604" width="158" height="26"/><text x="1009" y="2622">std::vector&lt; int8_t &gt;</text></g>
<g id="n_TC1" class="n"><rect x="1717" y="2671" width="156" height="54"/><text x="1795" y="2688">ns3::TracedCallback</text><text x="1795" y="2703">&lt; uint16_t, uint16_t,</text><text x="1795" y="2718">double &gt;</text></g>
<g id="n_TC2" class="n"><rect x="1700" y="2749" width="194" height="55"/><text x="1797" y="2766">ns3::TracedCallback</text><text x="1797" y="2781">&lt; uint16_t, ns3::Ptr</text><text x="1797" y="2796">&lt; ns3::SpectrumValue &gt; &gt;</text></g>
<g id="n_TC3" class="n"><rect x="1716" y="2828" width="158" height="54"/><text x="1795" y="2845">ns3::TracedCallback</text><text x="1795" y="2860">&lt; uint16_t, const std</text><text x="1795" y="2875">::vector&lt; int &gt; &amp; &gt;</text></g>
<g id="n_TC4" class="n"><rect x="1715" y="2908" width="161" height="68"/><text x="1795" y="2925">ns3::TracedCallback</text><text x="1795" y="2940">&lt; uint16_t, uint16_t,</text><text x="1795" y="2955">double, double, bool,</text><text x="1795" y="2970">uint8_t &gt;</text></g>
<g id="n_LCB" class="n"><rect x="697" y="2902" width="140" height="40"/><text x="767" y="2919">std::list&lt; Callback</text><text x="767" y="2934">&lt; void, Ts... &gt; &gt;</text></g>
<g id="n_TCTS" class="n"><rect x="1213" y="2945" width="153" height="39"/><text x="1289" y="2962">ns3::TracedCallback</text><text x="1289" y="2977">&lt; Ts &gt;</text></g>
<g id="n_TC5" class="n"><rect x="1700" y="3060" width="191" height="54"/><text x="1795" y="3077">ns3::TracedCallback</text><text x="1795" y="3092">&lt; uint16_t, uint16_t,</text><text x="1795" y="3107">double, double, uint8_t &gt;</text></g>
<g id="n_TC6" class="n"><rect x="1717" y="3139" width="156" height="54"/><text x="1795" y="3156">ns3::TracedCallback</text><text x="1795" y="3171">&lt; uint16_t, uint16_t,</text><text x="1795" y="3186">State, State &gt;</text></g>
<g id="n_TC7" class="n"><rect x="1700" y="3221" width="196" height="55"/><text x="1798" y="3238">ns3::TracedCallback</text><text x="1798" y="3253">&lt; ns3::PhyTransmissionStat</text><text x="1798" y="3268">Parameters &gt;</text></g>
<g id="n_VVI" class="n"><rect x="1201" y="3372" width="176" height="41"/><text x="1289" y="3389">std::vector&lt; std::vector</text><text x="1289" y="3404">&lt; int &gt; &gt;</text></g>
<g id="n_VI" class="n"><rect x="698" y="3422" width="139" height="25"/><text x="767" y="3439">std::vector&lt; int &gt;</text></g>
<g id="n_CB" class="r"><rect x="231" y="3418" width="157" height="40"/><text x="309" y="3435">ns3::Callback&lt; void,</text><text x="309" y="3450">Ts... &gt;</text></g>
<g id="n_INT" class="n"><rect x="290" y="3482" width="38" height="26"/><text x="309" y="3500">int</text></g>
<g id="n_SAP1" class="n"><rect x="3128" y="3449" width="194" height="25"/><text x="3225" y="3466">ns3::LteUePhySapProvider</text></g>
<g id="n_SAP2" class="n"><rect x="3141" y="3497" width="170" height="25"/><text x="3226" y="3514">ns3::LteUePhySapUser</text></g>
<g id="n_SAP3" class="n"><rect x="3123" y="3546" width="204" height="25"/><text x="3225" y="3563">ns3::LteUeCphySapProvider</text></g>
<g id="n_SAP4" class="n"><rect x="3136" y="3596" width="179" height="24"/><text x="3225" y="3613">ns3::LteUeCphySapUser</text></g>
</svg>
